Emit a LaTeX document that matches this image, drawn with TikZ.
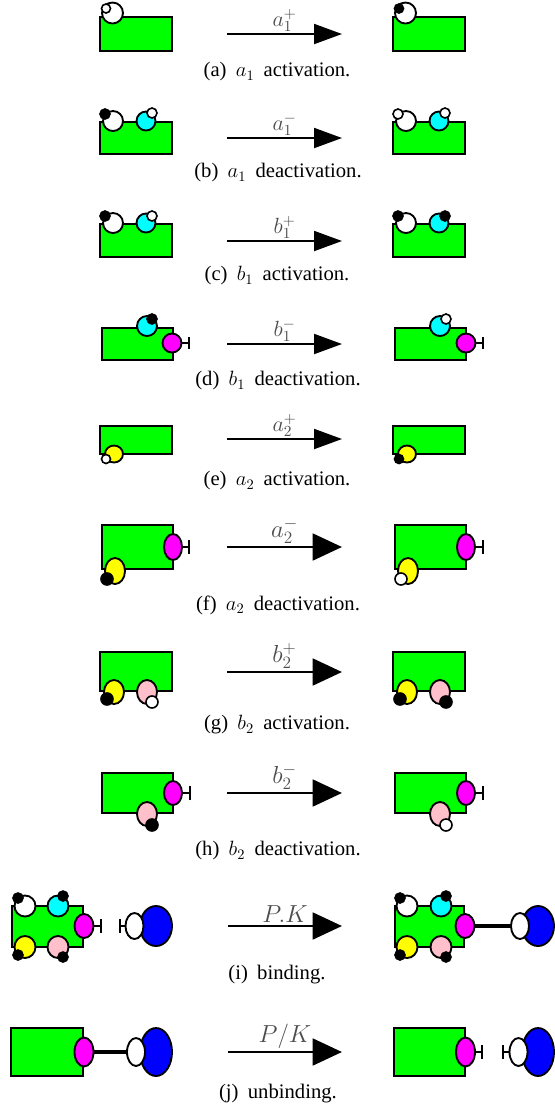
\documentclass[tikz,border=0pt]{standalone}
\usepackage{fix-cm}
\usepackage{fontspec}
\setmainfont{Liberation Serif}
\usetikzlibrary{arrows.meta}
\definecolor{cgreen}{RGB}{0,255,0}
\definecolor{ccyan}{RGB}{0,255,255}
\definecolor{cmag}{RGB}{255,0,255}
\definecolor{cyel}{RGB}{255,255,0}
\definecolor{cpink}{RGB}{255,192,203}
\definecolor{cblue}{RGB}{0,0,255}
\newcommand\mydom[5]{\draw[dom,fill=#1] (#2,#3) ellipse [x radius=#4, y radius=#5];}
\newcommand\mysite[4]{\draw[site,fill=#1] (#2,#3) circle [radius=#4];}
\tikzset{
  gbox/.style={draw=black, line width=1.5pt, fill=cgreen},
  dom/.style={draw=black, line width=1.4pt},
  site/.style={draw=black, line width=1.2pt},
  rxn/.style={line width=1.5pt, -{Triangle[length=21pt,width=15pt]}},
  rxnbig/.style={line width=2.2pt, -{Triangle[length=22pt,width=20pt]}},
  lab/.style={midway, above, inner sep=1pt, text=black!70, font=\fontsize{16.5}{18}\selectfont},
  labbig/.style={midway, above, inner sep=1.5pt, text=black!70, font=\fontsize{18.5}{20}\selectfont},
  captext/.style={font=\fontsize{15.5}{18}\selectfont, anchor=center, inner sep=0pt},
  inh/.style={line width=1.4pt},
  bond/.style={line width=3.5pt},
}
\newcommand\capsp{\hspace{0.45em}}
\begin{document}
\begin{tikzpicture}[x=0.75pt,y=-0.75pt]
\useasboundingbox (0,0) rectangle (555,1108);
% ---------------- (a)
\draw[gbox] (100,17) rectangle (172,51);
\mydom{white}{112.5}{13}{10.5}{10.5}
\mysite{white}{106}{8.5}{4.5}
\draw[gbox] (393,17) rectangle (465,51);
\mydom{white}{405.5}{13}{10.5}{10.5}
\mysite{black}{399}{8.5}{4.5}
\coordinate (a0) at (227,34); \coordinate (a1) at (342,34);
\draw[rxn] (a0) -- node[lab] (la) {$a_1^+$} (a1);
\node[captext] (ca) at (277,72) {(a)\capsp$a_1$\capsp activation.};
% ---------------- (b)
\draw[gbox] (100,122) rectangle (172,154);
\mydom{white}{113}{121}{10}{10}
\mysite{black}{105}{114}{5}
\mydom{ccyan}{146}{121}{9.5}{9.5}
\mysite{white}{152}{113}{5}
\draw[gbox] (393,122) rectangle (465,154);
\mydom{white}{406}{121}{10}{10}
\mysite{white}{398}{114}{5}
\mydom{ccyan}{439}{121}{9.5}{9.5}
\mysite{white}{445}{113}{5}
\coordinate (b0) at (227,138); \coordinate (b1) at (342,138);
\draw[rxn] (b0) -- node[lab] (lb) {$a_1^-$} (b1);
\node[captext] (cb) at (278,173) {(b)\capsp$a_1$\capsp deactivation.};
% ---------------- (c)
\draw[gbox] (100,224) rectangle (172,257);
\mydom{white}{113}{223}{10}{10}
\mysite{black}{105}{216}{5}
\mydom{ccyan}{146}{223}{9.5}{9.5}
\mysite{white}{152}{216}{5}
\draw[gbox] (393,224) rectangle (465,257);
\mydom{white}{406}{223}{10}{10}
\mysite{black}{398}{216}{5}
\mydom{ccyan}{439}{223}{9.5}{9.5}
\mysite{black}{445}{216}{5}
\coordinate (c0) at (227,241); \coordinate (c1) at (342,241);
\draw[rxn] (c0) -- node[lab] (lc) {$b_1^+$} (c1);
\node[captext] (cc) at (277,276) {(c)\capsp$b_1$\capsp activation.};
% ---------------- (d)
\draw[gbox] (102,328) rectangle (173,360);
\mydom{ccyan}{147}{326}{10}{10}
\mysite{black}{152}{319}{5}
\coordinate (d-i0) at (181,343); \coordinate (d-i1) at (189,343);
\draw[inh] (d-i0) -- (d-i1); \draw[inh] (189,337) -- (189,349);
\mydom{cmag}{172}{343}{9.5}{9.5}
\draw[gbox] (395,328) rectangle (466,360);
\mydom{ccyan}{440}{326}{10}{10}
\mysite{white}{446}{319}{5}
\coordinate (d-j0) at (475,343); \coordinate (d-j1) at (483,343);
\draw[inh] (d-j0) -- (d-j1); \draw[inh] (483,337) -- (483,349);
\mydom{cmag}{466}{343}{9.5}{9.5}
\coordinate (d0) at (227,344); \coordinate (d1) at (342,344);
\draw[rxn] (d0) -- node[lab] (ld) {$b_1^-$} (d1);
\node[captext] (cd) at (278,381) {(d)\capsp$b_1$\capsp deactivation.};
% ---------------- (e)
\draw[gbox] (100,426) rectangle (172,454);
\mydom{cyel}{114}{454}{9}{8.5}
\mysite{white}{106}{459}{4.5}
\draw[gbox] (393,426) rectangle (465,454);
\mydom{cyel}{407}{454}{9}{8.5}
\mysite{black}{399}{459}{4.5}
\coordinate (e0) at (227,439); \coordinate (e1) at (342,439);
\draw[rxn] (e0) -- node[lab] (le) {$a_2^+$} (e1);
\node[captext] (ce) at (277,481) {(e)\capsp$a_2$\capsp activation.};
% ---------------- (f)
\draw[gbox] (102,525) rectangle (173,569);
\coordinate (f-i0) at (181,547); \coordinate (f-i1) at (189,547);
\draw[inh] (f-i0) -- (f-i1); \draw[inh] (189,540) -- (189,554);
\mydom{cmag}{173}{547}{9}{13}
\mydom{cyel}{115}{571}{10}{13}
\mysite{black}{107}{579}{6}
\draw[gbox] (395,525) rectangle (466,569);
\coordinate (f-j0) at (474,547); \coordinate (f-j1) at (483,547);
\draw[inh] (f-j0) -- (f-j1); \draw[inh] (483,540) -- (483,554);
\mydom{cmag}{466}{547}{9}{13}
\mydom{cyel}{408}{571}{10}{13}
\mysite{white}{401}{579}{6}
\coordinate (f0) at (227,547); \coordinate (f1) at (342,547);
\draw[rxnbig] (f0) -- node[labbig] (lf) {$a_2^-$} (f1);
\node[captext] (cf) at (278,605) {(f)\capsp$a_2$\capsp deactivation.};
% ---------------- (g)
\draw[gbox] (100,652) rectangle (172,691);
\mydom{cyel}{114}{692}{10}{12}
\mysite{black}{107}{699}{6}
\mydom{cpink}{147}{692}{10}{12}
\mysite{white}{152}{702}{6}
\draw[gbox] (393,652) rectangle (465,691);
\mydom{cyel}{407}{692}{10}{12}
\mysite{black}{400}{699}{6}
\mydom{cpink}{440}{692}{10}{12}
\mysite{black}{446}{702}{6}
\coordinate (g0) at (227,672); \coordinate (g1) at (342,672);
\draw[rxnbig] (g0) -- node[labbig] (lg) {$b_2^+$} (g1);
\node[captext] (cg) at (277,725) {(g)\capsp$b_2$\capsp activation.};
% ---------------- (h)
\draw[gbox] (102,773) rectangle (173,813);
\coordinate (h-i0) at (181,793); \coordinate (h-i1) at (190,793);
\draw[inh] (h-i0) -- (h-i1); \draw[inh] (190,786) -- (190,800);
\mydom{cmag}{173}{793}{9}{12}
\mydom{cpink}{147}{814}{10}{12}
\mysite{black}{152}{825}{6}
\draw[gbox] (395,773) rectangle (466,813);
\coordinate (h-j0) at (474,793); \coordinate (h-j1) at (483,793);
\draw[inh] (h-j0) -- (h-j1); \draw[inh] (483,786) -- (483,800);
\mydom{cmag}{466}{793}{9}{12}
\mydom{cpink}{440}{814}{10}{12}
\mysite{white}{446}{825}{6}
\coordinate (h0) at (227,793); \coordinate (h1) at (342,793);
\draw[rxnbig] (h0) -- node[labbig] (lh) {$b_2^-$} (h1);
\node[captext] (ch) at (278,851) {(h)\capsp$b_2$\capsp deactivation.};
% ---------------- (i)
\draw[gbox] (12,906) rectangle (83,947);
\mydom{white}{25}{906}{10.5}{10.5}
\mysite{black}{18}{898}{5}
\mydom{ccyan}{58}{906}{10.5}{10.5}
\mysite{black}{63}{896}{5}
\mydom{cyel}{25}{947}{10.5}{11}
\mysite{black}{18}{955}{5}
\mydom{cpink}{58}{947}{10.5}{11}
\mysite{black}{63}{957}{5}
\coordinate (i-i0) at (93,926); \coordinate (i-i1) at (101,926);
\draw[inh] (i-i0) -- (i-i1); \draw[inh] (101,919) -- (101,933);
\mydom{cmag}{84}{926}{9.5}{12}
\coordinate (i-k0) at (126,926); \coordinate (i-k1) at (120,926);
\draw[inh] (i-k0) -- (i-k1); \draw[inh] (120,919) -- (120,933);
\mydom{cblue}{156}{926}{16}{20}
\mydom{white}{134.5}{926}{9}{13}
\draw[gbox] (395,906) rectangle (464,947);
\coordinate (i-b0) at (465,926); \coordinate (i-b1) at (520,926);
\draw[bond] (i-b0) -- (i-b1);
\mydom{white}{407}{906}{10.5}{10.5}
\mysite{black}{400}{898}{5}
\mydom{ccyan}{441}{906}{10.5}{10.5}
\mysite{black}{446}{896}{5}
\mydom{cyel}{407}{947}{10.5}{11}
\mysite{black}{400}{955}{5}
\mydom{cpink}{441}{947}{10.5}{11}
\mysite{black}{446}{957}{5}
\mydom{cmag}{465}{926}{9.5}{12}
\mydom{cblue}{538}{926}{16}{20}
\mydom{white}{520}{926}{9}{13}
\coordinate (i0) at (228,926); \coordinate (i1) at (342,926);
\draw[rxnbig] (i0) -- node[labbig] (li) {$P.K$} (i1);
\node[captext] (ci) at (277,975) {(i)\capsp binding.};
% ---------------- (j)
\draw[gbox] (11,1028) rectangle (83,1076);
\coordinate (j-b0) at (84,1052); \coordinate (j-b1) at (136,1052);
\draw[bond] (j-b0) -- (j-b1);
\mydom{cmag}{84}{1052}{9.5}{14.5}
\mydom{cblue}{156}{1052}{16}{24}
\mydom{white}{136}{1052}{9}{14}
\draw[gbox] (394,1028) rectangle (465,1076);
\coordinate (j-i0) at (475,1052); \coordinate (j-i1) at (482,1052);
\draw[inh] (j-i0) -- (j-i1); \draw[inh] (482,1045) -- (482,1059);
\mydom{cmag}{465.5}{1052}{9.5}{14.5}
\coordinate (j-k0) at (510,1052); \coordinate (j-k1) at (503,1052);
\draw[inh] (j-k0) -- (j-k1); \draw[inh] (503,1045) -- (503,1059);
\mydom{cblue}{538}{1052}{16}{24}
\mydom{white}{518.5}{1052}{9}{14}
\coordinate (j0) at (228,1052); \coordinate (j1) at (342,1052);
\draw[rxnbig] (j0) -- node[labbig] (lj) {$P/K$} (j1);
\node[captext] (cj) at (278,1094) {(j)\capsp unbinding.};
\end{tikzpicture}
\end{document}
